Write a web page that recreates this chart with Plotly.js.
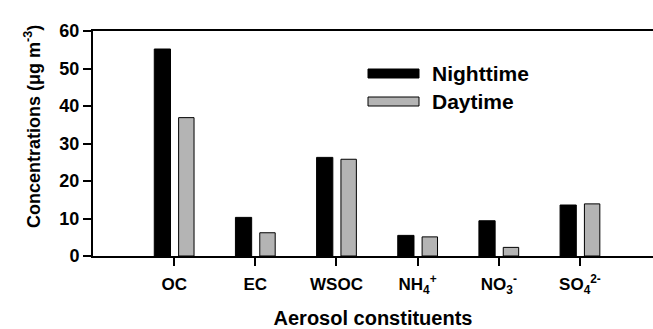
<!DOCTYPE html>
<html><head><meta charset="utf-8">
<script src="https://cdn.plot.ly/plotly-3.0.1.min.js"></script>
<style>html,body{margin:0;padding:0;background:#fff}#chart{width:653px;height:329px}</style>
</head><body><div id="chart"></div>
<script>
const categories = ["OC","EC","WSOC","NH4","NO3","SO4"];
const tickLabels = ["OC","EC","WSOC","NH<sub>4</sub><sup>+</sup>","NO<sub>3</sub><sup>-</sup>","SO<sub>4</sub><sup>2-</sup>"];
const nighttime = [55.2, 10.3, 26.3, 5.5, 9.4, 13.6];
const daytime = [36.9, 6.2, 25.8, 5.1, 2.3, 13.9];
const seriesNames = ["Nighttime","Daytime"];
const yTicks = [0,10,20,30,40,50,60];

const fam = "Liberation Sans, Arial, sans-serif";
const traces = [
  {type:"bar", x:categories, y:nighttime, name:seriesNames[0], width:0.2, offset:-0.245,
   marker:{color:"#000", line:{color:"#000", width:1}}, showlegend:false},
  {type:"bar", x:categories, y:daytime, name:seriesNames[1], width:0.19, offset:0.055,
   marker:{color:"#b4b4b4", line:{color:"#000", width:1}}, showlegend:false}
];
const layout = {
  width:653, height:329,
  margin:{l:93, r:0, t:31, b:73},
  paper_bgcolor:"#fff", plot_bgcolor:"#fff",
  font:{family:fam, size:18, color:"#000"},
  xaxis:{type:"category", range:[-1, 5.9], tickvals:categories,
    ticktext:tickLabels.map(t=>"<b>"+t+"</b>"),
    ticks:"outside", ticklen:8, tickwidth:2, tickcolor:"#000", ticklabelstandoff:4,
    showline:true, linewidth:2, linecolor:"#000", mirror:true, showgrid:false, zeroline:false,
    tickfont:{family:fam, size:17, color:"#000"},
    title:{text:"<b>Aerosol constituents</b>", font:{family:fam, size:20, color:"#000"}, standoff:16}},
  yaxis:{range:[0,60], tickvals:yTicks, ticktext:yTicks.map(v=>"<b>"+v+"</b>"),
    ticks:"outside", ticklen:8, tickwidth:2, tickcolor:"#000",
    showline:true, linewidth:2, linecolor:"#000", showgrid:false, zeroline:false,
    tickfont:{family:fam, size:18, color:"#000"}},
  shapes:[
    {type:"rect", xref:"paper", yref:"paper", x0:(368-93)/560, x1:(419-93)/560, y0:(256-78)/225, y1:(256-69)/225,
     fillcolor:"#000", line:{color:"#000", width:1}},
    {type:"rect", xref:"paper", yref:"paper", x0:(368-93)/560, x1:(419-93)/560, y0:(256-106)/225, y1:(256-97)/225,
     fillcolor:"#b4b4b4", line:{color:"#000", width:1}}
  ],
  annotations:[
    {xref:"paper", yref:"paper", x:(430-93)/560, y:(256-73)/225, xanchor:"left", yanchor:"middle", showarrow:false,
     text:"<b>"+seriesNames[0]+"</b>", font:{family:fam, size:21, color:"#000"}},
    {xref:"paper", yref:"paper", x:(430-93)/560, y:(256-101)/225, xanchor:"left", yanchor:"middle", showarrow:false,
     text:"<b>"+seriesNames[1]+"</b>", font:{family:fam, size:21, color:"#000"}},
    {xref:"paper", yref:"paper", x:(32-93)/560, y:(256-127)/225, xanchor:"center", yanchor:"middle", showarrow:false,
     textangle:-90, text:"<b>Concentrations (μg m<sup>-3</sup>)</b>", font:{family:fam, size:18, color:"#000"}}
  ]
};
Plotly.newPlot("chart", traces, layout, {displayModeBar:false, staticPlot:true});
</script></body></html>
